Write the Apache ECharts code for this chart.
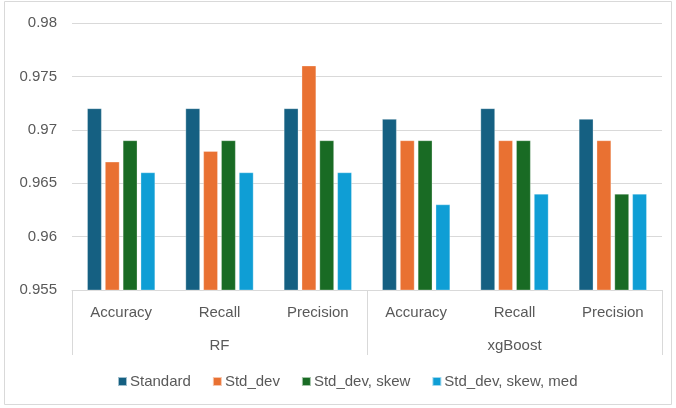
<!DOCTYPE html>
<html>
<head>
<meta charset="utf-8">
<script src="https://cdn.jsdelivr.net/npm/echarts@6/dist/echarts.min.js"></script>
<style>
  html, body { margin: 0; padding: 0; background: #fff; }
  #chart { width: 676px; height: 408px; }
</style>
</head>
<body>
<div id="chart"></div>
<script>
// Metric categories under each model, and the model groups
const metrics = ['Accuracy', 'Recall', 'Precision', 'Accuracy', 'Recall', 'Precision'];
const models = ['RF', 'xgBoost'];

// Series values (RF: Accuracy, Recall, Precision; xgBoost: Accuracy, Recall, Precision)
const standard = [0.972, 0.972, 0.972, 0.971, 0.972, 0.971];
const stdDev = [0.967, 0.968, 0.976, 0.969, 0.969, 0.969];
const stdDevSkew = [0.969, 0.969, 0.969, 0.969, 0.969, 0.964];
const stdDevSkewMed = [0.966, 0.966, 0.966, 0.963, 0.964, 0.964];

const seriesNames = ['Standard', 'Std_dev', 'Std_dev, skew', 'Std_dev, skew, med'];
const seriesValues = [standard, stdDev, stdDevSkew, stdDevSkewMed];
const colors = ['#156082', '#E97132', '#196B24', '#0F9ED5'];

const textColor = '#595959';
const lineColor = '#D9D9D9';
const fontFamily = '"Liberation Sans", Arial, sans-serif';

const chart = echarts.init(document.getElementById('chart'), null, { renderer: 'canvas' });

chart.setOption({
  animation: false,
  color: colors,
  textStyle: { fontFamily: fontFamily },
  graphic: [{
    type: 'rect',
    shape: { x: 4.5, y: 1.5, width: 667, height: 403 },
    style: { fill: 'none', stroke: lineColor, lineWidth: 1 },
    silent: true
  }],
  grid: { left: 72, right: 14, top: 23, bottom: 118 },
  legend: {
    bottom: 14,
    left: 112,
    itemWidth: 9,
    itemHeight: 9,
    itemGap: 21,
    icon: 'rect',
    textStyle: { color: textColor, fontSize: 15, fontFamily: fontFamily, padding: [0, 0, 0, -2] },
    data: seriesNames
  },
  xAxis: [
    {
      type: 'category',
      data: metrics,
      position: 'bottom',
      axisLine: { show: true, lineStyle: { color: lineColor, width: 1 } },
      axisTick: { show: false },
      axisLabel: { color: textColor, fontSize: 15, margin: 15, interval: 0 }
    },
    {
      type: 'category',
      data: models,
      position: 'bottom',
      boundaryGap: true,
      axisLine: { show: false },
      axisTick: { show: true, length: 65, interval: 0, lineStyle: { color: lineColor, width: 1 } },
      axisLabel: { color: textColor, fontSize: 15, margin: 48, interval: 0 }
    }
  ],
  yAxis: {
    type: 'value',
    min: 0.955,
    max: 0.98,
    interval: 0.005,
    axisLine: { show: false },
    axisTick: { show: false },
    splitLine: { lineStyle: { color: lineColor, width: 1 } },
    axisLabel: {
      color: textColor,
      fontSize: 15,
      margin: 15,
      formatter: v => String(parseFloat(v.toFixed(3)))
    }
  },
  series: seriesNames.map((name, i) => ({
    name: name,
    type: 'bar',
    xAxisIndex: 0,
    data: seriesValues[i],
    barGap: '24%',
    barCategoryGap: '31%',
    itemStyle: { borderColor: 'rgba(255,255,255,0.6)', borderWidth: 0.5 }
  }))
});
</script>
</body>
</html>
